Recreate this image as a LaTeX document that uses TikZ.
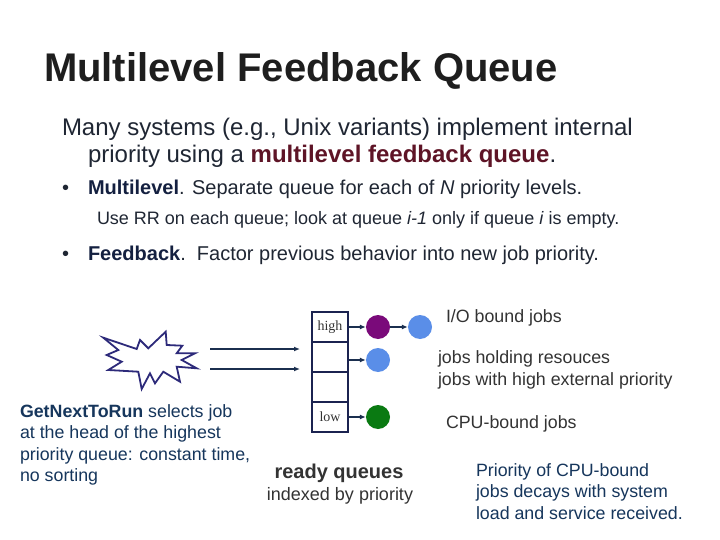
\documentclass[tikz,border=0pt]{standalone}
\usepackage{fontspec}
\setmainfont{Liberation Sans}
\newfontfamily\serifq{Liberation Serif}
\usetikzlibrary{arrows.meta}
\definecolor{titlec}{HTML}{1E1E1E}
\definecolor{bodyc}{HTML}{1F2633}
\definecolor{navyb}{HTML}{142040}
\definecolor{redb}{HTML}{5E1426}
\definecolor{grayt}{HTML}{333333}
\definecolor{navyt}{HTML}{16365C}
\definecolor{boxc}{HTML}{1B2350}
\definecolor{arrc}{HTML}{1B2F4F}
\definecolor{starc}{HTML}{2D2A7A}
\definecolor{purp}{HTML}{7A0A7A}
\definecolor{bluej}{HTML}{5A8EE8}
\definecolor{greenj}{HTML}{0A7A12}
\newcommand{\fs}[1]{\fontsize{#1}{#1}\selectfont}
\begin{document}
\begin{tikzpicture}[x=1pt,y=-1pt,
  txt/.style={anchor=base west,inner sep=0pt,outer sep=0pt},
  lbl/.style={txt,text=grayt,font=\fs{17.8}},
  side/.style={txt,text=navyt,font=\fs{17.8}},
  cell/.style={draw=boxc,line width=2.4pt,minimum width=36pt,minimum height=30pt,inner sep=0pt,font=\serifq\fs{14},text=grayt},
  job/.style={circle,minimum size=24pt,inner sep=0pt},
  arr/.style={draw=arrc,line width=1.4pt,-{Latex[length=6pt,width=5pt]}},
  bul/.style={txt,font=\fs{20}}]
\useasboundingbox (0,0) rectangle (720,540);
\fill[white] (0,0) rectangle (720,540);
% title and text
\node[txt,text=titlec,font=\bfseries\fs{40}] (title) at (44,82) {Multilevel Feedback Queue};
\node[txt,text=bodyc,font=\fs{24}] (l1) at (62,136) {Many systems (e.g., Unix variants) implement internal};
\node[txt,text=bodyc,font=\fs{24}] (l2) at (88,163) {priority using a \textcolor{redb}{\bfseries multilevel feedback queue}.};
\node[bul,text=bodyc] (b1) at (62,195) {\textbullet};
\node[txt,text=bodyc,font=\fs{20}] (l3) at (88,195) {\textcolor{navyb}{\bfseries Multilevel}. Separate queue for each of \textit{N} priority levels.};
\node[txt,text=bodyc,font=\fs{18}] (l4) at (97,225) {Use RR on each queue; look at queue \textit{i-1} only if queue \textit{i} is empty.};
\node[bul,text=bodyc] (b2) at (62,260) {\textbullet};
\node[txt,text=bodyc,font=\fs{20}] (l5) at (88,260) {\textcolor{navyb}{\bfseries Feedback}.\ \ Factor previous behavior into new job priority.};
% queue
\node[cell] (q1) at (330,327) {high};
\node[cell] (q2) at (330,357) {};
\node[cell] (q3) at (330,387) {};
\node[cell] (q4) at (330,417) {low};
\node[job,fill=purp] (p1) at (378,327) {};
\node[job,fill=bluej] (p2) at (420,327) {};
\node[job,fill=bluej] (p3) at (378,360) {};
\node[job,fill=greenj] (p4) at (378,417) {};
\draw[arr] (q1.east) -- (p1);
\draw[arr] (p1) -- (p2);
\draw[arr] (q2.east |- p3) -- (p3);
\draw[arr] (q4.east) -- (p4);
% star
\draw[starc,line width=1.8pt,fill=white,line join=miter] (103.3,337.7) -- (136.7,349) -- (140,340) -- (148.3,348.3) -- (165.7,331.7) -- (166.7,345) -- (182.3,345.7) -- (176.7,353.3) -- (195,353.3) -- (181.7,360) -- (196.7,368.3) -- (176.7,366.7) -- (180,381.7) -- (163.3,371.7) -- (155,383.3) -- (150,373.3) -- (141.7,389) -- (138.3,371.7) -- (108.3,370) -- (121.7,361.7) -- (106.7,355) -- (118.3,350) -- cycle;
\coordinate (s1) at (210,349);
\coordinate (s2) at (210,369);
\coordinate (e1) at (300,349);
\coordinate (e2) at (300,369);
\draw[arr] (s1) -- (e1);
\draw[arr] (s2) -- (e2);
% labels
\node[lbl] (io) at (446,322) {I/O bound jobs};
\node[lbl] (hold) at (438,363) {jobs holding resouces};
\node[lbl] (ext) at (438,385) {jobs with high external priority};
\node[lbl] (cpu) at (446,428) {CPU-bound jobs};
\node[side] (g1) at (20,417) {\textbf{GetNextToRun} selects job};
\node[side] (g2) at (20,438.5) {at the head of the highest};
\node[side] (g3) at (20,460) {priority queue: constant time,};
\node[side] (g4) at (20,481.5) {no sorting};
\node[anchor=base,inner sep=0pt,text=grayt,font=\bfseries\fs{20}] (rq) at (339,478) {ready queues};
\node[anchor=base,inner sep=0pt,text=grayt,font=\fs{18}] (ix) at (340,500) {indexed by priority};
\node[side] (c1) at (476,476) {Priority of CPU-bound};
\node[side] (c2) at (476,497.5) {jobs decays with system};
\node[side] (c3) at (476,519) {load and service received.};
\end{tikzpicture}
\end{document}
